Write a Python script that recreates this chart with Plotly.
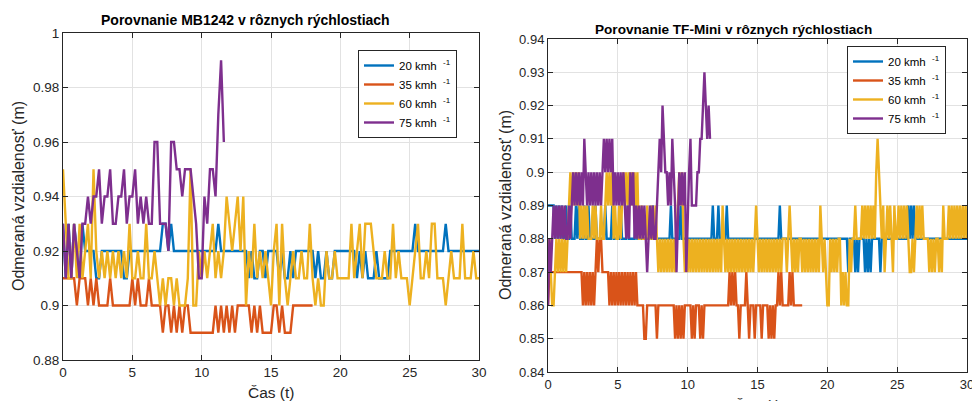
import numpy as np
import plotly.graph_objects as go

# ---------------- data ----------------
speeds = ["20", "35", "60", "75"]
colors = ["#0072BD", "#D95319", "#EDB120", "#7E2F8E"]

# Left: MB1242, values in cm, sampled every ~0.2 s
mb_end = [30.0, 18.0, 30.0, 11.6]
mb_20 = [93, 91, 93, 91, 93, 92, 91, 93, 92, 92,
         92, 92, 91, 91, 92, 92, 92, 92, 92, 92,
         92, 92, 91, 91, 92, 92, 92, 92, 92, 92,
         92, 92, 92, 92, 92, 92, 93, 93, 92, 93,
         92, 92, 92, 92, 92, 92, 92, 92, 92, 92,
         92, 92, 92, 92, 92, 92, 93, 92, 92, 92,
         92, 92, 92, 92, 92, 92, 92, 91, 92, 91,
         91, 92, 92, 91, 92, 92, 92, 92, 91, 92,
         91, 91, 92, 91, 92, 92, 92, 92, 92, 92,
         92, 91, 92, 91, 91, 92, 91, 91, 92, 92,
         92, 92, 92, 92, 92, 92, 91, 92, 91, 92,
         91, 91, 91, 92, 91, 91, 91, 91, 92, 92,
         92, 92, 92, 92, 92, 92, 92, 93, 92, 92,
         92, 92, 92, 92, 92, 92, 92, 92, 93, 92,
         92, 92, 92, 92, 92, 92, 92, 92, 92, 92,
         92]
mb_35 = [91, 91, 91, 91, 91, 90, 91, 91, 91, 90,
         91, 90, 91, 90, 90, 90, 90, 91, 90, 90,
         90, 90, 90, 90, 90, 91, 90, 91, 90, 90,
         90, 91, 90, 90, 90, 90, 89, 90, 90, 89,
         90, 89, 90, 89, 90, 90, 89, 89, 89, 89,
         89, 89, 89, 89, 89, 90, 89, 90, 89, 90,
         89, 90, 89, 90, 90, 90, 90, 90, 89, 90,
         89, 90, 89, 89, 89, 89, 90, 90, 89, 90,
         89, 89, 89, 90, 90, 90, 90, 90, 90, 90,
         90]
mb_60 = [95, 93, 91, 91, 93, 91, 93, 91, 92, 93,
         91, 95, 92, 91, 92, 91, 92, 91, 92, 91,
         92, 91, 92, 91, 93, 91, 91, 92, 91, 91,
         93, 91, 91, 92, 91, 90, 91, 90, 91, 91,
         90, 91, 90, 90, 90, 91, 95, 90, 90, 92,
         91, 92, 91, 92, 93, 91, 92, 91, 92, 94,
         93, 92, 93, 94, 92, 94, 90, 92, 91, 93,
         91, 92, 91, 92, 91, 90, 92, 93, 90, 93,
         91, 90, 91, 92, 91, 91, 92, 91, 91, 93,
         91, 90, 91, 90, 90, 92, 91, 91, 92, 91,
         91, 91, 91, 91, 93, 91, 92, 93, 91, 93,
         93, 93, 92, 91, 91, 91, 92, 91, 91, 93,
         91, 92, 91, 91, 91, 90, 91, 92, 93, 91,
         91, 92, 91, 93, 93, 91, 91, 91, 90, 91,
         92, 91, 91, 91, 93, 91, 91, 91, 92, 91,
         91]
mb_75 = [93, 91, 93, 91, 93, 92, 91, 93, 93, 94,
         93, 94, 94, 95, 93, 94, 94, 95, 93, 93,
         94, 94, 95, 93, 94, 94, 95, 93, 94, 93,
         94, 93, 93, 96, 96, 93, 93, 93, 92, 96,
         96, 95, 95, 94, 95, 95, 95, 94, 93, 91,
         91, 94, 93, 95, 95, 94, 97, 99, 96]

# Right: TF-Mini, values in cm, sampled every ~0.1 s (one row = 1 s)
tf_end = [30.0, 18.2, 30.0, 11.6]
tf_20 = [89, 89, 89, 89, 89, 88, 89, 88, 89, 88,
         89, 88, 88, 89, 88, 88, 89, 88, 88, 88,
         89, 88, 89, 88, 88, 88, 89, 88, 88, 89,
         88, 88, 88, 88, 89, 88, 88, 88, 88, 88,
         88, 89, 88, 88, 88, 88, 89, 88, 88, 88,
         88, 88, 89, 88, 88, 88, 88, 89, 88, 88,
         88, 88, 88, 89, 88, 88, 88, 88, 88, 88,
         88, 88, 88, 88, 88, 89, 88, 88, 88, 88,
         88, 88, 88, 88, 88, 88, 88, 88, 89, 88,
         88, 88, 88, 88, 88, 89, 88, 88, 88, 88,
         88, 88, 88, 88, 88, 88, 88, 88, 88, 88,
         88, 88, 88, 88, 88, 88, 88, 88, 89, 88,
         88, 88, 89, 88, 88, 88, 88, 88, 89, 88,
         88, 88, 88, 88, 88, 88, 88, 88, 88, 88,
         88, 88, 88, 88, 88, 88, 88, 88, 88, 88,
         88, 88, 88, 88, 88, 88, 88, 88, 88, 88,
         88, 88, 88, 88, 88, 88, 89, 88, 88, 88,
         88, 88, 88, 88, 88, 88, 88, 88, 88, 88,
         88, 88, 88, 88, 88, 88, 88, 88, 88, 88,
         88, 88, 88, 88, 88, 88, 88, 88, 88, 88,
         88, 88, 88, 88, 88, 88, 88, 88, 88, 88,
         88, 88, 88, 88, 88, 87, 88, 88, 88, 88,
         87, 88, 87, 88, 88, 88, 88, 87, 88, 87,
         88, 87, 88, 88, 88, 88, 88, 88, 87, 88,
         88, 88, 88, 88, 88, 88, 88, 88, 88, 88,
         88, 88, 88, 88, 88, 88, 88, 88, 89, 88,
         89, 88, 89, 88, 88, 88, 88, 88, 88, 88,
         88, 88, 88, 88, 88, 88, 88, 88, 88, 88,
         88, 88, 88, 88, 88, 88, 88, 88, 88, 88,
         88, 88, 88, 88, 88, 88, 88, 88, 88, 88,
         88]
tf_35 = [86, 87, 87, 87, 87, 87, 87, 87, 87, 87,
         87, 87, 87, 87, 87, 87, 87, 87, 87, 87,
         87, 87, 87, 87, 87, 86, 87, 86, 87, 86,
         87, 86, 87, 86, 87, 88, 87, 88, 88, 87,
         87, 87, 87, 87, 86, 87, 86, 87, 86, 87,
         86, 87, 86, 87, 86, 87, 86, 87, 86, 87,
         86, 87, 86, 87, 86, 86, 86, 86, 86, 85,
         85, 86, 86, 86, 86, 86, 86, 86, 85, 86,
         86, 86, 86, 86, 86, 86, 86, 86, 86, 86,
         86, 85, 86, 85, 86, 85, 86, 85, 86, 86,
         86, 86, 86, 85, 86, 85, 86, 86, 86, 85,
         86, 85, 86, 86, 86, 86, 86, 86, 86, 86,
         86, 86, 86, 86, 86, 86, 86, 86, 86, 86,
         87, 86, 87, 86, 87, 86, 86, 85, 86, 86,
         86, 86, 87, 86, 85, 86, 86, 86, 85, 86,
         86, 86, 86, 85, 86, 86, 86, 86, 85, 86,
         85, 86, 85, 86, 86, 87, 86, 87, 86, 86,
         86, 86, 86, 87, 86, 87, 86, 86, 86, 86,
         86, 86, 86]
tf_60 = [87, 88, 87, 86, 86, 87, 88, 87, 88, 87,
         88, 87, 88, 87, 88, 89, 90, 89, 90, 89,
         90, 89, 90, 88, 89, 88, 89, 88, 89, 88,
         88, 88, 89, 88, 89, 88, 88, 88, 89, 88,
         88, 89, 90, 89, 90, 89, 90, 88, 89, 88,
         88, 89, 88, 89, 90, 89, 90, 89, 90, 89,
         90, 89, 90, 89, 90, 88, 88, 89, 88, 88,
         88, 89, 88, 88, 89, 88, 88, 89, 88, 87,
         88, 87, 88, 87, 88, 87, 88, 87, 88, 87,
         88, 87, 88, 89, 90, 89, 90, 88, 87, 88,
         87, 88, 87, 88, 87, 88, 87, 88, 87, 88,
         87, 88, 87, 88, 87, 88, 87, 88, 87, 88,
         87, 88, 87, 88, 87, 89, 88, 87, 88, 87,
         88, 87, 88, 87, 88, 87, 88, 87, 88, 87,
         88, 87, 88, 87, 88, 87, 88, 87, 88, 89,
         88, 87, 88, 87, 88, 87, 88, 87, 88, 87,
         88, 87, 88, 87, 88, 87, 88, 87, 88, 88,
         88, 87, 88, 89, 88, 87, 88, 87, 88, 87,
         88, 88, 87, 88, 87, 88, 87, 88, 87, 88,
         87, 88, 87, 88, 87, 89, 88, 87, 88, 87,
         86, 86, 88, 87, 88, 87, 88, 87, 88, 88,
         86, 87, 86, 87, 86, 86, 88, 87, 88, 88,
         89, 88, 88, 88, 88, 89, 88, 89, 88, 89,
         88, 89, 88, 89, 88, 90, 91, 90, 89, 88,
         89, 87, 88, 89, 88, 89, 88, 87, 89, 88,
         88, 89, 88, 89, 88, 89, 88, 89, 88, 87,
         87, 88, 87, 88, 89, 88, 89, 88, 89, 88,
         88, 88, 88, 87, 88, 87, 88, 87, 88, 88,
         87, 88, 87, 89, 88, 88, 88, 89, 88, 89,
         88, 89, 88, 89, 88, 89, 88, 89, 88, 89,
         88]
tf_75 = [86, 88, 87, 88, 89, 88, 89, 88, 89, 88,
         89, 88, 89, 88, 88, 89, 88, 89, 90, 89,
         90, 89, 90, 89, 90, 89, 91, 90, 89, 90,
         89, 90, 89, 90, 89, 90, 89, 90, 89, 90,
         91, 90, 91, 90, 91, 90, 91, 89, 90, 89,
         90, 89, 90, 89, 90, 89, 88, 89, 88, 90,
         89, 90, 88, 89, 88, 89, 88, 89, 88, 89,
         88, 87, 88, 89, 88, 89, 88, 88, 89, 90,
         91, 90, 92, 91, 90, 90, 89, 90, 89, 91,
         90, 89, 87, 89, 90, 89, 90, 89, 90, 87,
         89, 90, 91, 89, 89, 89, 89, 90, 90, 91,
         91, 92, 93, 92, 91, 92, 91]

mb_series = [mb_20, mb_35, mb_60, mb_75]
tf_series = [tf_20, tf_35, tf_60, tf_75]

left_yticks = [0.88, 0.90, 0.92, 0.94, 0.96, 0.98, 1.00]
left_yticklabels = ["0.88", "0.9", "0.92", "0.94", "0.96", "0.98", "1"]
right_yticks = [0.84, 0.85, 0.86, 0.87, 0.88, 0.89, 0.90, 0.91, 0.92, 0.93, 0.94]
right_yticklabels = ["0.84", "0.85", "0.86", "0.87", "0.88", "0.89", "0.9",
                     "0.91", "0.92", "0.93", "0.94"]
xticks = [0, 5, 10, 15, 20, 25, 30]
xticklabels = ["0", "5", "10", "15", "20", "25", "30"]

title_left = "<b>Porovnanie MB1242 v rôznych rýchlostiach</b>"
title_right = "<b>Porovnanie TF-Mini v rôznych rýchlostiach</b>"
ylabel = "Odmeraná vzdialenosť (m)"
xlabel = "Čas (t)"

# ---------------- figure ----------------
W, H = 972, 401
FONT = "Liberation Sans, Arial, Helvetica, sans-serif"
AX = "#262626"
GRID = "#e2e2e2"


def px(x):
    return x / W


def py(y):
    return 1 - y / H


fig = go.Figure()

for name, col, vals, tend in zip(speeds, colors, mb_series, mb_end):
    t = np.linspace(0, tend, len(vals))
    fig.add_trace(go.Scatter(x=t, y=np.array(vals) / 100.0, mode="lines",
                             line=dict(color=col, width=2.4),
                             name=f"{name} kmh  <sup>-1</sup>",
                             xaxis="x", yaxis="y", legend="legend"))

for name, col, vals, tend in zip(speeds, colors, tf_series, tf_end):
    t = np.linspace(0, tend, len(vals))
    fig.add_trace(go.Scatter(x=t, y=np.array(vals) / 100.0, mode="lines",
                             line=dict(color=col, width=2.4),
                             name=f"{name} kmh  <sup>-1</sup>",
                             xaxis="x2", yaxis="y2", legend="legend2"))


def axis_common(size):
    return dict(showline=True, linecolor=AX, linewidth=1, mirror="ticks",
                ticks="inside", ticklen=5, tickcolor=AX, tickwidth=1,
                showgrid=True, gridcolor=GRID, gridwidth=1, zeroline=False,
                automargin=False, ticklabeloverflow="allow",
                tickfont=dict(family=FONT, size=size, color=AX))


fig.update_layout(
    template="none",
    width=W, height=H,
    margin=dict(l=0, r=0, t=0, b=0, pad=0, autoexpand=False),
    paper_bgcolor="white", plot_bgcolor="white",
    showlegend=True,
    xaxis=dict(domain=[px(63), px(479)], range=[0, 30], anchor="y",
               tickvals=xticks, ticktext=xticklabels, **axis_common(13.5)),
    yaxis=dict(domain=[py(360), py(33)], range=[0.88, 1.0], anchor="x",
               tickvals=left_yticks, ticktext=left_yticklabels, **axis_common(13.5)),
    xaxis2=dict(domain=[px(548), px(967)], range=[0, 30], anchor="y2",
                tickvals=xticks, ticktext=xticklabels, **axis_common(13)),
    yaxis2=dict(domain=[py(372), py(39)], range=[0.84, 0.94], anchor="x2",
                tickvals=right_yticks, ticktext=right_yticklabels, **axis_common(13)),
    legend=dict(x=px(358), y=py(50), xanchor="left", yanchor="top",
                bgcolor="white", bordercolor=AX, borderwidth=1,
                font=dict(family=FONT, size=11.5, color="black"),
                tracegroupgap=0, itemwidth=30),
    legend2=dict(x=px(847), y=py(46), xanchor="left", yanchor="top",
                 bgcolor="white", bordercolor=AX, borderwidth=1,
                 font=dict(family=FONT, size=11.5, color="black"),
                 tracegroupgap=0, itemwidth=30),
    annotations=[
        dict(text=title_left, x=px(245), y=py(20), xref="paper", yref="paper",
             showarrow=False, xanchor="center", yanchor="middle",
             font=dict(family=FONT, size=14, color="black")),
        dict(text=title_right, x=px(733), y=py(29), xref="paper", yref="paper",
             showarrow=False, xanchor="center", yanchor="middle",
             font=dict(family=FONT, size=13.6, color="black")),
        dict(text=ylabel, x=px(18), y=py(196), xref="paper", yref="paper",
             showarrow=False, textangle=-90, xanchor="center", yanchor="middle",
             font=dict(family=FONT, size=16, color=AX)),
        dict(text=ylabel, x=px(505), y=py(205), xref="paper", yref="paper",
             showarrow=False, textangle=-90, xanchor="center", yanchor="middle",
             font=dict(family=FONT, size=16, color=AX)),
        dict(text=xlabel, x=px(271), y=py(392), xref="paper", yref="paper",
             showarrow=False, xanchor="center", yanchor="middle",
             font=dict(family=FONT, size=15.5, color=AX)),
        dict(text=xlabel, x=px(757), y=py(405), xref="paper", yref="paper",
             showarrow=False, xanchor="center", yanchor="middle",
             font=dict(family=FONT, size=15.5, color=AX)),
    ],
)

fig.write_html("out.html")
